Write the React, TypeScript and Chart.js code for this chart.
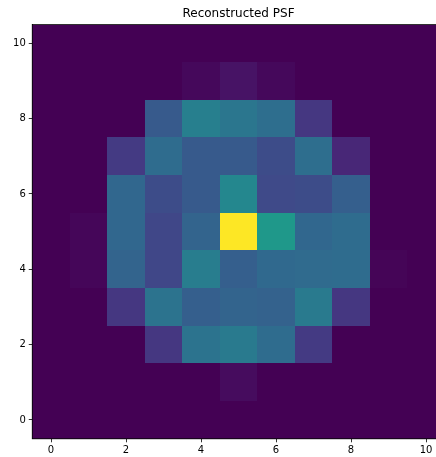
import React, { useEffect, useRef } from "react";
import { Chart, registerables } from "chart.js";

Chart.register(...registerables);

const titleText = "Reconstructed PSF";
const tickValues = [0, 2, 4, 6, 8, 10];
const columns = [0, 1, 2, 3, 4, 5, 6, 7, 8, 9, 10];

// rows indexed from bottom (y = 0) to top (y = 10)
const psfRow0 = [0, 0, 0, 0, 0, 0, 0, 0, 0, 0, 0];
const psfRow1 = [0, 0, 0, 0, 0, 0.03, 0, 0, 0, 0, 0];
const psfRow2 = [0, 0, 0, 0.16, 0.38, 0.41, 0.35, 0.17, 0, 0, 0];
const psfRow3 = [0, 0, 0.16, 0.38, 0.3, 0.32, 0.31, 0.41, 0.16, 0, 0];
const psfRow4 = [0, 0.015, 0.32, 0.21, 0.42, 0.3, 0.34, 0.345, 0.35, 0.01, 0];
const psfRow5 = [0, 0.015, 0.33, 0.21, 0.32, 1.0, 0.53, 0.33, 0.35, 0, 0];
const psfRow6 = [0, 0, 0.33, 0.23, 0.28, 0.46, 0.22, 0.23, 0.3, 0, 0];
const psfRow7 = [0, 0, 0.17, 0.35, 0.28, 0.28, 0.23, 0.36, 0.11, 0, 0];
const psfRow8 = [0, 0, 0, 0.28, 0.43, 0.39, 0.36, 0.16, 0, 0, 0];
const psfRow9 = [0, 0, 0, 0, 0.02, 0.05, 0.02, 0, 0, 0, 0];
const psfRow10 = [0, 0, 0, 0, 0, 0, 0, 0, 0, 0, 0];

const psfRows = [psfRow0, psfRow1, psfRow2, psfRow3, psfRow4, psfRow5, psfRow6, psfRow7, psfRow8, psfRow9, psfRow10];

const viridisStops = [
  "#440154", "#471365", "#482475", "#463480", "#414487", "#3b528b", "#355f8d",
  "#2f6c8e", "#2a788e", "#25848e", "#21918c", "#1e9c89", "#22a884", "#2fb47c",
  "#44bf70", "#5ec962", "#7ad151", "#9bd93c", "#bddf26", "#dfe318", "#fde725",
];

function hexToRgb(h: string) {
  return [parseInt(h.slice(1, 3), 16), parseInt(h.slice(3, 5), 16), parseInt(h.slice(5, 7), 16)];
}

function viridis(v: number) {
  const t = Math.max(0, Math.min(1, v)) * (viridisStops.length - 1);
  const i = Math.min(Math.floor(t), viridisStops.length - 2);
  const f = t - i;
  const a = hexToRgb(viridisStops[i]);
  const b = hexToRgb(viridisStops[i + 1]);
  const c = a.map((x, k) => Math.round(x + (b[k] - x) * f));
  return `rgb(${c[0]},${c[1]},${c[2]})`;
}

const heatmapPlugin = {
  id: "heatmapCells",
  beforeDatasetsDraw(chart: any) {
    const { ctx, chartArea, scales } = chart;
    const xs = scales.x;
    const ys = scales.y;
    ctx.save();
    ctx.beginPath();
    ctx.rect(chartArea.left, chartArea.top, chartArea.right - chartArea.left, chartArea.bottom - chartArea.top);
    ctx.clip();
    psfRows.forEach((row, r) => {
      row.forEach((v, c) => {
        const x0 = Math.round(xs.getPixelForValue(columns[c] - 0.5));
        const x1 = Math.round(xs.getPixelForValue(columns[c] + 0.5));
        const y0 = Math.round(ys.getPixelForValue(r + 0.5));
        const y1 = Math.round(ys.getPixelForValue(r - 0.5));
        ctx.fillStyle = viridis(v);
        ctx.fillRect(x0, y0, x1 - x0, y1 - y0);
      });
    });
    ctx.restore();
  },
  afterDatasetsDraw(chart: any) {
    const { ctx, chartArea } = chart;
    ctx.save();
    ctx.strokeStyle = "#000";
    ctx.lineWidth = 0.8;
    ctx.strokeRect(chartArea.left, chartArea.top, chartArea.right - chartArea.left, chartArea.bottom - chartArea.top);
    ctx.restore();
  },
};

export default function App() {
  const ref = useRef<HTMLCanvasElement | null>(null);
  useEffect(() => {
    if (!ref.current) return;
    const points: { x: number; y: number }[] = [];
    psfRows.forEach((row, r) => row.forEach((_v, c) => points.push({ x: columns[c], y: r })));
    const tickFont = { family: "DejaVu Sans", size: 10 };
    const chart = new Chart(ref.current, {
      type: "scatter",
      data: {
        datasets: [{ data: points, pointRadius: 0, pointHoverRadius: 0 }],
      },
      plugins: [heatmapPlugin],
      options: {
        animation: false,
        responsive: false,
        maintainAspectRatio: false,
        events: [],
        layout: { padding: { left: 0, right: 32.25, top: 0, bottom: 0 } },
        plugins: {
          legend: { display: false },
          tooltip: { enabled: false },
          title: {
            display: true,
            fullSize: false,
            text: titleText,
            color: "#000",
            font: { family: "DejaVu Sans", size: 12, weight: "normal" },
            padding: { top: 7, bottom: 3.1 },
          },
        },
        scales: {
          x: {
            type: "linear",
            min: -0.5,
            max: 10.5,
            afterBuildTicks: (s: any) => { s.ticks = tickValues.map((v) => ({ value: v })); },
            afterFit: (s: any) => { s.height = 18.2; },
            ticks: { color: "#000", font: tickFont, padding: 2, maxRotation: 0, autoSkip: false },
            grid: { display: true, drawOnChartArea: false, drawTicks: true, tickLength: 3.5, color: "#000", lineWidth: 0.8 },
            border: { display: true, color: "#000", width: 0.8 },
          },
          y: {
            type: "linear",
            min: -0.5,
            max: 10.5,
            afterBuildTicks: (s: any) => { s.ticks = tickValues.map((v) => ({ value: v })); },
            afterFit: (s: any) => { s.width = 32.25; },
            ticks: { color: "#000", font: tickFont, padding: 3, autoSkip: false },
            grid: { display: true, drawOnChartArea: false, drawTicks: true, tickLength: 3.5, color: "#000", lineWidth: 0.8 },
            border: { display: true, color: "#000", width: 0.8 },
          },
        },
      },
    } as any);
    return () => chart.destroy();
  }, []);
  return (
    <div style={{ position: "absolute", left: 0, top: 0, width: 436, height: 457, overflow: "hidden", background: "#fff" }}>
      <canvas ref={ref} width={477} height={457} style={{ display: "block", width: 477, height: 457 }} />
    </div>
  );
}
